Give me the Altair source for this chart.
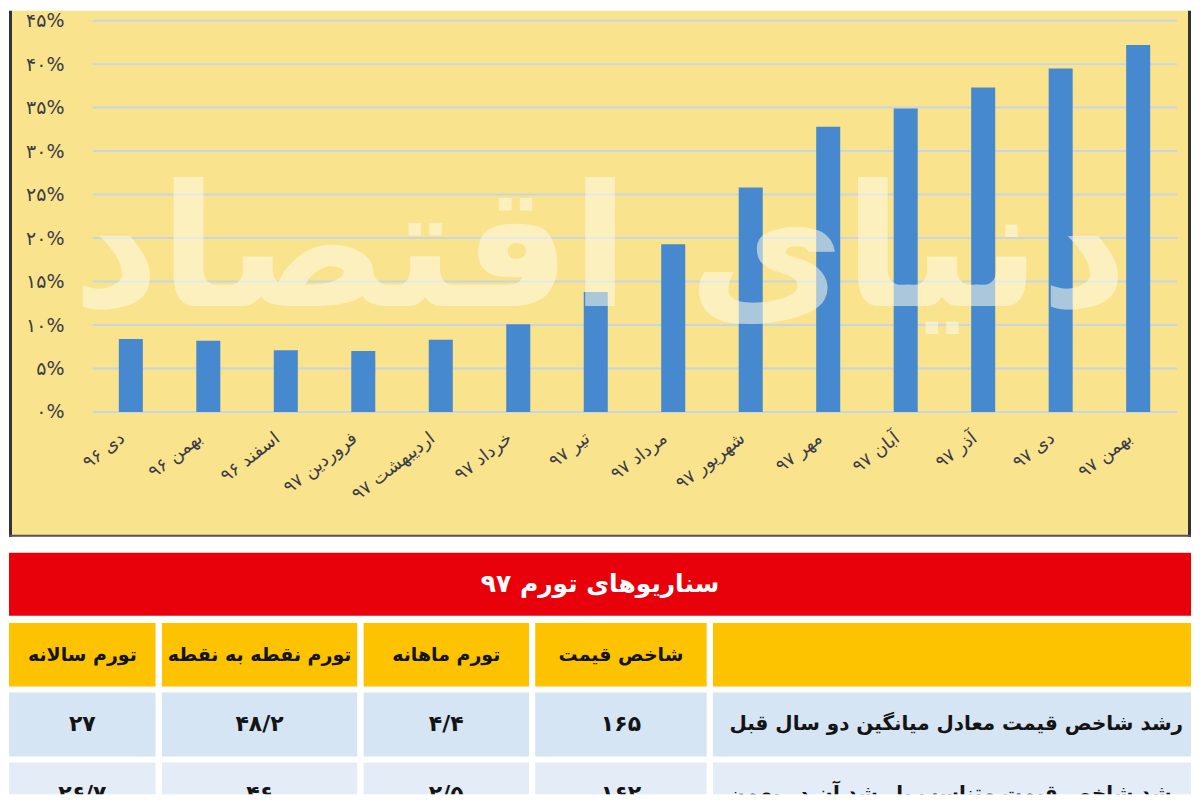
import json
import altair as alt
import pandas as pd

# ---------------- data ----------------
months = ["دی ۹۶", "بهمن ۹۶", "اسفند ۹۶", "فروردین ۹۷", "اردیبهشت ۹۷", "خرداد ۹۷",
          "تیر ۹۷", "مرداد ۹۷", "شهریور ۹۷", "مهر ۹۷", "آبان ۹۷", "آذر ۹۷", "دی ۹۷", "بهمن ۹۷"]
inflation = [8.4, 8.2, 7.1, 7.0, 8.3, 10.1, 13.8, 19.3, 25.8, 32.8, 34.9, 37.3, 39.5, 42.2]

y_ticks = [0, 5, 10, 15, 20, 25, 30, 35, 40, 45]
y_tick_labels = ["۰%", "۵%", "۱۰%", "۱۵%", "۲۰%", "۲۵%", "۳۰%", "۳۵%", "۴۰%", "۴۵%"]

watermark = "دنیای اقتصاد"
table_title = "سناریوهای تورم ۹۷"

# table columns, left to right as drawn
col_headers = ["تورم سالانه", "تورم نقطه به نقطه", "تورم ماهانه", "شاخص قیمت", ""]
annual = ["۲۷", "۲۶/۷"]
point_to_point = ["۴۸/۲", "۴۶"]
monthly = ["۴/۴", "۲/۵"]
price_index = ["۱۶۵", "۱۶۲"]
scenarios = ["رشد شاخص قیمت معادل میانگین دو سال قبل",
             "رشد شاخص قیمت متناسب با رشد آن در بهمن"]
table_cols = [annual, point_to_point, monthly, price_index, scenarios]
row_ids = ["h", "r1", "r2"]
row_kinds = ["header", "odd", "even"]

# ---------------- styles ----------------
FONT = "DejaVu Sans"
YELLOW = "#f9e38c"
BAR = "#4689cf"
GRID = "#c8d6e4"
RED = "#e8000b"
HEAD = "#fdc300"
ROW1 = "#d6e5f4"
ROW2 = "#e4edf7"
TXT = "#3b3b48"

TOTAL_W = 1184
TOP_H = 527
PLOT_L, PLOT_R = 84, 1170     # grid extent inside the yellow panel
ZERO_Y, TOPTICK_Y = 402, 10   # pixel range of the value scale

df = pd.DataFrame({"month": months, "value": inflation})
one = pd.DataFrame({"k": [0]})

label_expr = (f"{json.dumps(y_tick_labels, ensure_ascii=False)}"
              f"[indexof({json.dumps(y_ticks)}, datum.value)]")

yscale = alt.Scale(domain=[0, 45], range=[ZERO_Y, TOPTICK_Y])

grid = alt.Chart(pd.DataFrame({"tick": y_ticks})).mark_rule(color=GRID, strokeWidth=2).encode(
    x=alt.value(PLOT_L), x2=alt.value(PLOT_R),
    y=alt.Y("tick:Q", scale=yscale, title=None),
)

bars = alt.Chart(df).mark_bar(color=BAR).encode(
    x=alt.X("month:N", sort=months,
            scale=alt.Scale(paddingInner=0.69, paddingOuter=0.972, align=0.729),
            axis=alt.Axis(title=None, labelAngle=-38, labelAlign="right",
                          labelBaseline="middle", labelPadding=24, labelOffset=-8,
                          ticks=False, domain=False, labelFontSize=18, labelColor=TXT,
                          labelFont=FONT, offset=-(TOP_H - ZERO_Y), zindex=1)),
    y=alt.Y("value:Q", scale=yscale,
            axis=alt.Axis(title=None, values=y_ticks, labelExpr=label_expr,
                          grid=False, domain=False, ticks=False, labelPadding=29,
                          labelFontSize=19, labelColor=TXT, labelFont=FONT,
                          offset=-PLOT_L, zindex=1)),
)

wm = alt.Chart(one).mark_text(text=watermark, font=FONT, fontSize=170,
                              fontWeight="bold", color="#fffbe8", opacity=0.55).encode(
    x=alt.value(592), y=alt.value(245)
)

edge_l = alt.Chart(one).mark_rule(color="#333333", strokeWidth=3).encode(
    x=alt.value(1.5), y=alt.value(0), y2=alt.value(TOP_H)
)
edge_r = alt.Chart(one).mark_rule(color="#333333", strokeWidth=3).encode(
    x=alt.value(TOTAL_W - 1.5), y=alt.value(0), y2=alt.value(TOP_H)
)
edge_b = alt.Chart(one).mark_rule(color="#555555", strokeWidth=2).encode(
    x=alt.value(0), x2=alt.value(TOTAL_W), y=alt.value(TOP_H - 1)
)

top = alt.layer(grid, bars, wm, edge_l, edge_r, edge_b).properties(
    width=TOTAL_W, height=TOP_H, view=alt.ViewBackground(fill=YELLOW, strokeWidth=0)
)

banner = alt.Chart(pd.DataFrame({"t": [table_title]})).mark_text(
    color="white", fontSize=25, fontWeight="bold", font=FONT
).encode(text="t:N").properties(
    width=TOTAL_W, height=63, view=alt.ViewBackground(fill=RED, strokeWidth=0)
)

col_widths = [147, 196, 166, 172, 479]
row_scale = alt.Scale(domain=row_ids, range=[0, 204], paddingInner=0.0857, paddingOuter=0)


def column_chart(header, values, width, is_desc):
    d = pd.DataFrame({"row": row_ids, "text": [header] + list(values), "kind": row_kinds,
                      "size": [19, 20 if is_desc else 22, 20 if is_desc else 22]})
    base = alt.Chart(d)
    cells = base.mark_rect(clip=True).encode(
        x=alt.value(0), x2=alt.value(width),
        y=alt.Y("row:N", scale=row_scale, axis=None),
        color=alt.Color("kind:N", scale=alt.Scale(domain=row_kinds, range=[HEAD, ROW1, ROW2]),
                        legend=None),
    )
    txt = base.mark_text(clip=True, font=FONT, fontWeight="bold",
                         color="#141414", align="right" if is_desc else "center").encode(
        x=alt.value(width - 8 if is_desc else width / 2),
        y=alt.Y("row:N", scale=row_scale, axis=None),
        text="text:N",
        size=alt.Size("size:Q", scale=None, legend=None),
    )
    return alt.layer(cells, txt).properties(
        width=width, height=172, view=alt.ViewBackground(fill="white", strokeWidth=0)
    )


table = alt.hconcat(*[
    column_chart(h, v, w, i == 4)
    for i, (h, v, w) in enumerate(zip(col_headers, table_cols, col_widths))
], spacing=6)

lower = alt.vconcat(banner, table, spacing=7)

chart = alt.vconcat(top, lower, spacing=14).properties(
    padding=0
).configure(background="white").configure_view(strokeWidth=0)

chart.save("out.html", embed_options={"renderer": "svg", "actions": False})
